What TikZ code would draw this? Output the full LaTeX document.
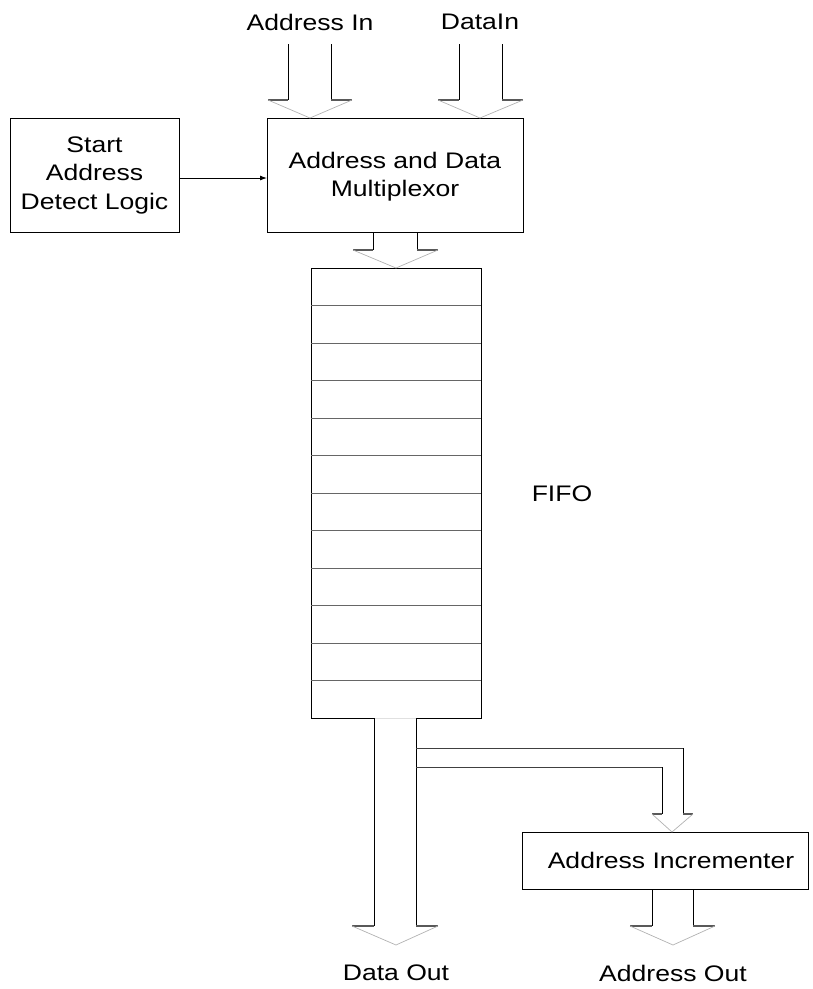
\documentclass[tikz,border=0pt]{standalone}
\usepackage{fontspec}
\setmainfont[FakeStretch=1.18]{Liberation Sans}
\usetikzlibrary{arrows.meta}
\begin{document}
\begin{tikzpicture}[x=1pt,y=-1pt,
  lbl/.style={font=\fontsize{22.5}{28.5}\selectfont, inner sep=0pt, align=center},
  blk/.style={draw=black, line width=0.9pt, fill=white},
  shaft/.style={draw=black, line width=0.9pt},
  wing/.style={draw=black!65, line width=1.2pt},
  head/.style={draw=black!30, line width=0.7pt},
  row/.style={draw=black!60, line width=1pt}]
\useasboundingbox (0,0) rectangle (813,989);
% boxes
\draw[blk] (10,118) rectangle (179,232);
\node[lbl] (start) at (94.5,175) {Start\\Address\\Detect Logic};
\draw[blk] (267,118) rectangle (523,232);
\node[lbl] (mux) at (395,176.5) {Address and Data\\Multiplexor};
\draw[blk] (311,268) rectangle (481,718);
\foreach \y in {305.5,343,380.5,418,455.5,493,530.5,568,605.5,643,680.5}
  \draw[row] (311,\y) -- (481,\y);
\node[lbl] (fifo) at (562,494) {FIFO};
\draw[blk] (522,832) rectangle (808,889);
\node[lbl] (inc) at (671,860.5) {Address Incrementer};
% labels
\node[lbl] (ain) at (310,22) {Address In};
\node[lbl] (din) at (480,22) {DataIn};
\node[lbl] (dout) at (396,973) {Data Out};
\node[lbl] (aout) at (673,973) {Address Out};
% start -> mux
\draw[line width=0.9pt, -{Latex[length=7pt,width=5pt]}] (179,178) -- (267,178);
% Address In block arrow
\draw[shaft] (288,44) -- (288,100); \draw[shaft] (331,44) -- (331,100);
\draw[wing] (268,100) -- (288,100); \draw[wing] (331,100) -- (352,100);
\draw[head] (268,100) -- (310,118) -- (352,100);
% DataIn block arrow
\draw[shaft] (459,44) -- (459,100); \draw[shaft] (502,44) -- (502,100);
\draw[wing] (438,100) -- (459,100); \draw[wing] (502,100) -- (523,100);
\draw[head] (438,100) -- (480,118) -- (523,100);
% Mux -> FIFO
\draw[shaft] (373,232) -- (373,250); \draw[shaft] (417,232) -- (417,250);
\draw[wing] (353,250) -- (373,250); \draw[wing] (417,250) -- (438,250);
\draw[head] (353,250) -- (396,268) -- (438,250);
% Data Out
\draw[draw=black!12, line width=1pt] (374,718) -- (416,718);
\draw[shaft] (374,718) -- (374,926); \draw[shaft] (416,718) -- (416,926);
\draw[wing] (352,926) -- (374,926); \draw[wing] (416,926) -- (438,926);
\draw[head] (352,926) -- (396,945) -- (438,926);
% Branch to incrementer
\draw[draw=black!75, line width=1pt] (416,748) -- (683,748);
\draw[shaft] (683,748) -- (683,814);
\draw[draw=black!75, line width=1pt] (416,767) -- (662,767);
\draw[shaft] (662,767) -- (662,814);
\draw[wing] (652,814) -- (662,814); \draw[wing] (683,814) -- (693,814);
\draw[head] (652,814) -- (672,832) -- (693,814);
% Address Out
\draw[shaft] (652,889) -- (652,926); \draw[shaft] (693,889) -- (693,926);
\draw[wing] (630,926) -- (652,926); \draw[wing] (693,926) -- (715,926);
\draw[head] (630,926) -- (673,945) -- (715,926);
\end{tikzpicture}
\end{document}
